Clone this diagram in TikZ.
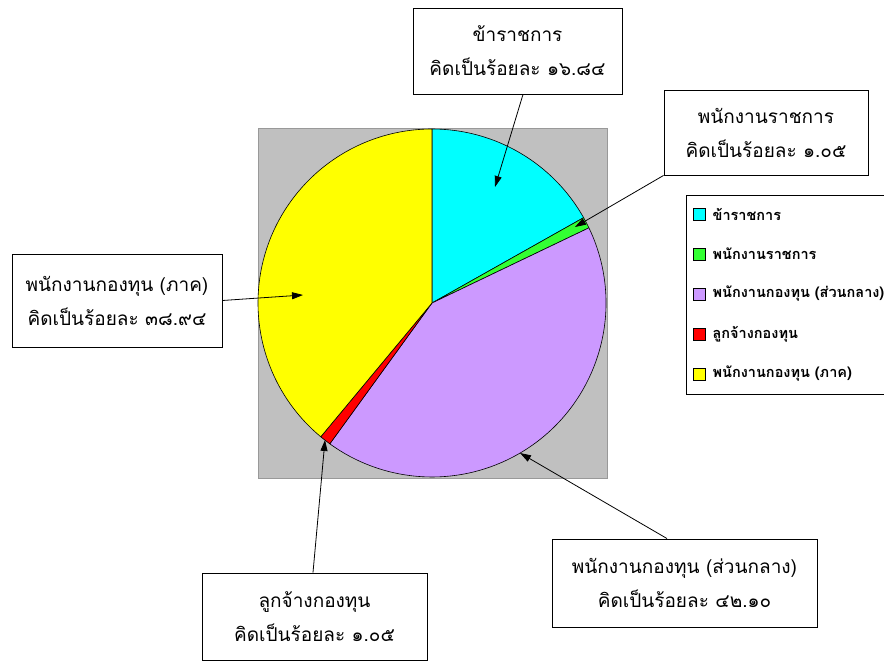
\documentclass[tikz,border=0pt]{standalone}
\usepackage{fontspec}
\setmainfont[Script=Thai]{Loma}
\usetikzlibrary{arrows.meta,positioning}
\definecolor{pieCyan}{RGB}{0,255,255}
\definecolor{pieGreen}{RGB}{51,255,51}
\definecolor{pieLilac}{RGB}{204,153,255}
\definecolor{pieRed}{RGB}{255,0,0}
\definecolor{pieYellow}{RGB}{255,255,0}
\definecolor{plotGray}{RGB}{192,192,192}
\newcommand{\pct}[1]{คิดเป็นร้อยละ #1}

\begin{document}
\begin{tikzpicture}[x=1pt,y=1pt,
  slice/.style={draw=black,line width=0.6pt,line join=round},
  callout/.style={draw=black,line width=0.9pt,fill=white,align=center,
    font=\fontsize{19}{34}\selectfont,inner sep=0pt},
  pointer/.style={-{Triangle[length=11pt,width=7pt]},line width=0.8pt},
  legkey/.style={draw=black,line width=0.8pt,minimum size=12pt,inner sep=0pt},
  legtext/.style={font=\fontsize{14.5}{16}\bfseries\selectfont,inner sep=0pt,anchor=west}]
\useasboundingbox (0,0) rectangle (884,662);
% plot area
\fill[plotGray] (258,184) rectangle (607,534);
\draw[black!40] (258,184) rectangle (607,534);
\coordinate (c) at (432,359);
\foreach \a/\b/\col in {90/29.376/pieCyan, 29.376/25.596/pieGreen,
    25.596/-125.964/pieLilac, -125.964/-129.744/pieRed, -129.744/-270/pieYellow}
  \draw[slice,fill=\col] (c) -- ++(\a:174) arc[start angle=\a,end angle=\b,radius=174] -- cycle;
% arrow targets
\coordinate (tip1) at (495,475);
\coordinate (tip2) at (575,435);
\coordinate (tip3) at (303,367);
\coordinate (tip4) at (520,209);
\coordinate (tip5) at (325,222);
% callouts
\node[callout,minimum width=209pt,minimum height=86pt] (kharatchakan) at (517.5,611)
  {ข้าราชการ\\\pct{๑๖.๘๔}};
\node[callout,minimum width=204pt,minimum height=85pt] (phanakngan) at (766,529.5)
  {พนักงานราชการ\\\pct{๑.๐๕}};
\node[callout,minimum width=210pt,minimum height=93pt] (phak) at (117,361.5)
  {พนักงานกองทุน (ภาค)\\\pct{๓๘.๙๔}};
\node[callout,minimum width=265pt,minimum height=88pt] (suanklang) at (684.5,79)
  {พนักงานกองทุน (ส่วนกลาง)\\\pct{๔๒.๑๐}};
\node[callout,minimum width=225pt,minimum height=87pt] (lukchang) at (314.5,45.5)
  {ลูกจ้างกองทุน\\\pct{๑.๐๕}};
\draw[pointer] ([xshift=5.5pt]kharatchakan.south) -- (tip1);
\draw[pointer] (phanakngan.south west) -- (tip2);
\draw[pointer] (phak.east) -- (tip3);
\draw[pointer] ([xshift=-17.5pt]suanklang.north) -- (tip4);
\draw[pointer] ([xshift=-1.5pt]lukchang.north) -- (tip5);
% legend
\draw[line width=0.8pt] (884,467) -- (686,467) -- (686,268) -- (884,268);
\foreach \i/\col/\txt in {1/pieCyan/ข้าราชการ, 2/pieGreen/พนักงานราชการ,
    3/pieLilac/พนักงานกองทุน (ส่วนกลาง), 4/pieRed/ลูกจ้างกองทุน, 5/pieYellow/พนักงานกองทุน (ภาค)} {
  \node[legkey,fill=\col] (key\i) at (699,{488-40*\i}) {};
  \node[legtext,right=7pt of key\i] (leg\i) {\txt};
}
\end{tikzpicture}
\end{document}
